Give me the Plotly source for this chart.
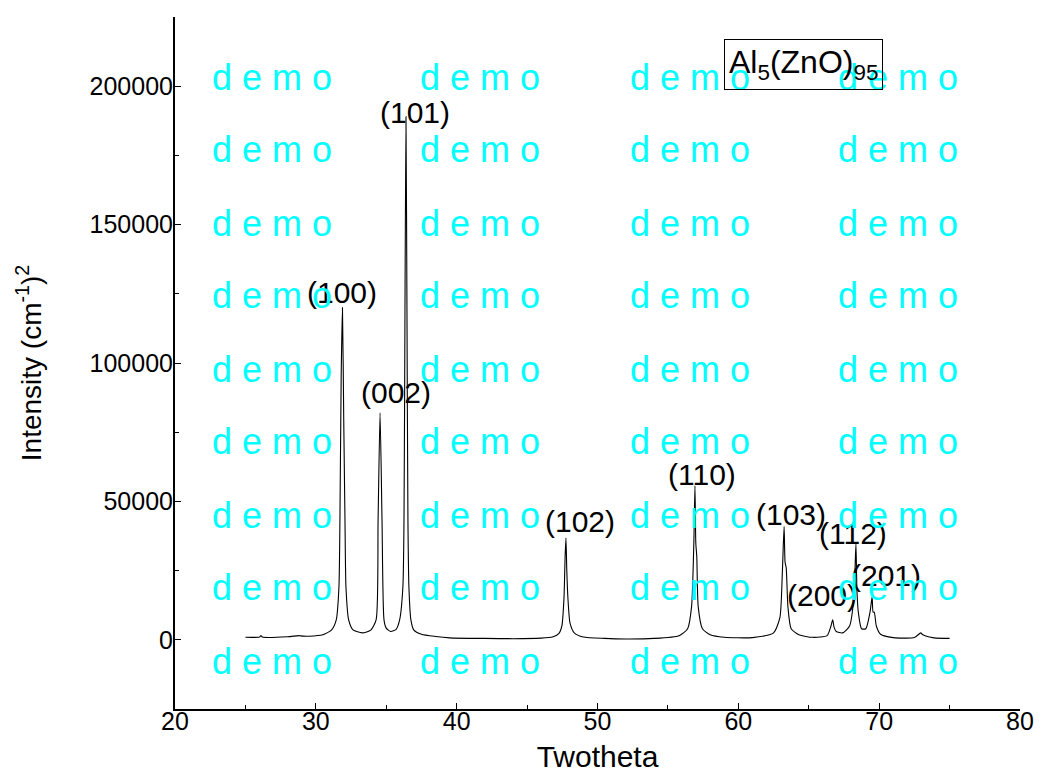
import plotly.graph_objects as go

twotheta = [25.0, 26.0, 26.1, 26.2, 28.0, 28.8, 28.9, 29.5, 30.5, 31.12, 31.45, 31.64, 31.71, 31.8, 31.89, 31.98, 32.07,
            32.14, 32.33, 32.64, 33.3, 33.9, 34.28, 34.42, 34.56, 34.7, 34.84, 35.0, 35.31, 35.7, 35.95, 36.18,
            36.26, 36.33, 36.4, 36.47, 36.54, 36.61, 36.75, 36.95, 37.5, 38.5, 39.5, 42.0, 44.0, 46.0, 46.8,
            47.25, 47.47, 47.62, 47.7, 47.76, 47.82, 47.9, 48.05, 48.35, 49.0, 50.5, 52.0, 54.0, 55.8, 56.4,
            56.68, 56.84, 56.92, 56.98, 57.05, 57.15, 57.45, 58.0, 59.0, 61.0, 62.5, 62.95, 63.13, 63.25,
            63.32, 63.4, 63.52, 63.75, 64.3, 65.3, 66.3, 66.58, 66.7, 66.8, 66.95, 67.4, 67.9, 68.2, 68.35,
            68.42, 68.52, 68.75, 69.05, 69.35, 69.5, 69.57, 69.65, 69.8, 70.1, 71.0, 72.5, 72.95, 73.05,
            73.25, 73.9, 75.0]
intensity = [900, 1000, 1500, 1000, 1100, 1500, 1400, 1300, 1800, 3600, 7200, 19000, 43000, 95000, 120000, 80000, 43000,
             19000, 7200, 3600, 2500, 3500, 7200, 43000, 82000, 43000, 7200, 4200, 3000, 3800, 7200, 19000,
             43000, 120000, 189000, 120000, 43000, 19000, 7200, 3600, 2000, 1200, 700, 500, 400, 600, 1000,
             2200, 5000, 15000, 30000, 36800, 25000, 15000, 6000, 2500, 1000, 500, 300, 500, 1500, 4000,
             12000, 35000, 55600, 35000, 30000, 12000, 4000, 1800, 900, 800, 2500, 8000, 25000, 41000,
             28000, 26000, 12000, 4000, 1800, 900, 1500, 5000, 7200, 4500, 3000, 2500, 5000, 15000, 34700,
             18000, 10000, 4000, 4000, 10000, 15500, 10000, 10000, 5000, 2000, 800, 800, 2500, 2000,
             1500, 700, 500]

peak_labels = ["(100)", "(002)", "(101)", "(102)", "(110)", "(103)", "(200)", "(112)", "(201)"]
label_x = [31.86, 35.67, 37.04, 48.75, 57.42, 63.74, 65.94, 68.14, 70.48]
label_y = [125600, 89200, 190600, 42600, 59900, 45100, 15900, 38300, 23100]

legend_text = "Al<sub>5</sub>(ZnO)<sub>95</sub>"
x_ticks = [20, 30, 40, 50, 60, 70, 80]
x_minor = [25, 35, 45, 55, 65, 75]
y_ticks = [0, 50000, 100000, 150000, 200000]
y_minor = [25000, 75000, 125000, 175000]

FONT = "Liberation Sans, Arial, sans-serif"

fig = go.Figure()
fig.add_trace(go.Scatter(x=twotheta, y=intensity, mode="lines",
                         line=dict(color="black", width=1.1), showlegend=False,
                         line_shape="spline", line_smoothing=0.6))

for t, lx, ly in zip(peak_labels, label_x, label_y):
    fig.add_annotation(x=lx, y=ly, text=t, showarrow=False, xanchor="center", yanchor="middle",
                       font=dict(family=FONT, size=30, color="black"))

# watermark
wm_x = [0.115, 0.361, 0.609, 0.856]
wm_y = [0.913, 0.808, 0.702, 0.597, 0.491, 0.386, 0.280, 0.175, 0.069]
for yy in wm_y:
    for xx in wm_x:
        fig.add_annotation(x=xx, y=yy, xref="paper", yref="paper",
                           xanchor="center", yanchor="middle",
                           text="d\u00a0e\u00a0m\u00a0o", showarrow=False,
                           font=dict(family=FONT, size=36, color="cyan"))

fig.add_annotation(x=0.744, y=0.931, xref="paper", yref="paper", text=legend_text,
                   xanchor="center", yanchor="middle",
                   showarrow=False, bordercolor="black", borderwidth=1, borderpad=4,
                   bgcolor="rgba(0,0,0,0)", font=dict(family=FONT, size=32, color="black"))

fig.update_layout(
    width=1034, height=775,
    margin=dict(l=167, r=22, t=9, b=74),
    paper_bgcolor="white", plot_bgcolor="white",
    font=dict(family=FONT, color="black"),
    xaxis=dict(range=[20, 80], tickvals=x_ticks, automargin=False,
               showline=True, linecolor="black", linewidth=2, showgrid=False, zeroline=False,
               ticks="inside", ticklen=6, tickcolor="black", ticklabelstandoff=-11,
               minor=dict(tickvals=x_minor, ticks="inside", ticklen=4, tickcolor="black"),
               tickfont=dict(size=25),
               title=dict(text="Twotheta", font=dict(size=30), standoff=12)),
    yaxis=dict(range=[-25000, 225000], tickvals=y_ticks, tickformat="d", automargin=False,
               showline=True, linecolor="black", linewidth=2, showgrid=False, zeroline=False,
               ticks="inside", ticklen=6, tickcolor="black", ticklabelstandoff=-5,
               minor=dict(tickvals=y_minor, ticks="inside", ticklen=4, tickcolor="black"),
               tickfont=dict(size=25),
               title=dict(text="Intensity (cm<sup>-1</sup>)<sup>2</sup>", font=dict(size=28), standoff=40)),
)

fig.write_html("out.html")
